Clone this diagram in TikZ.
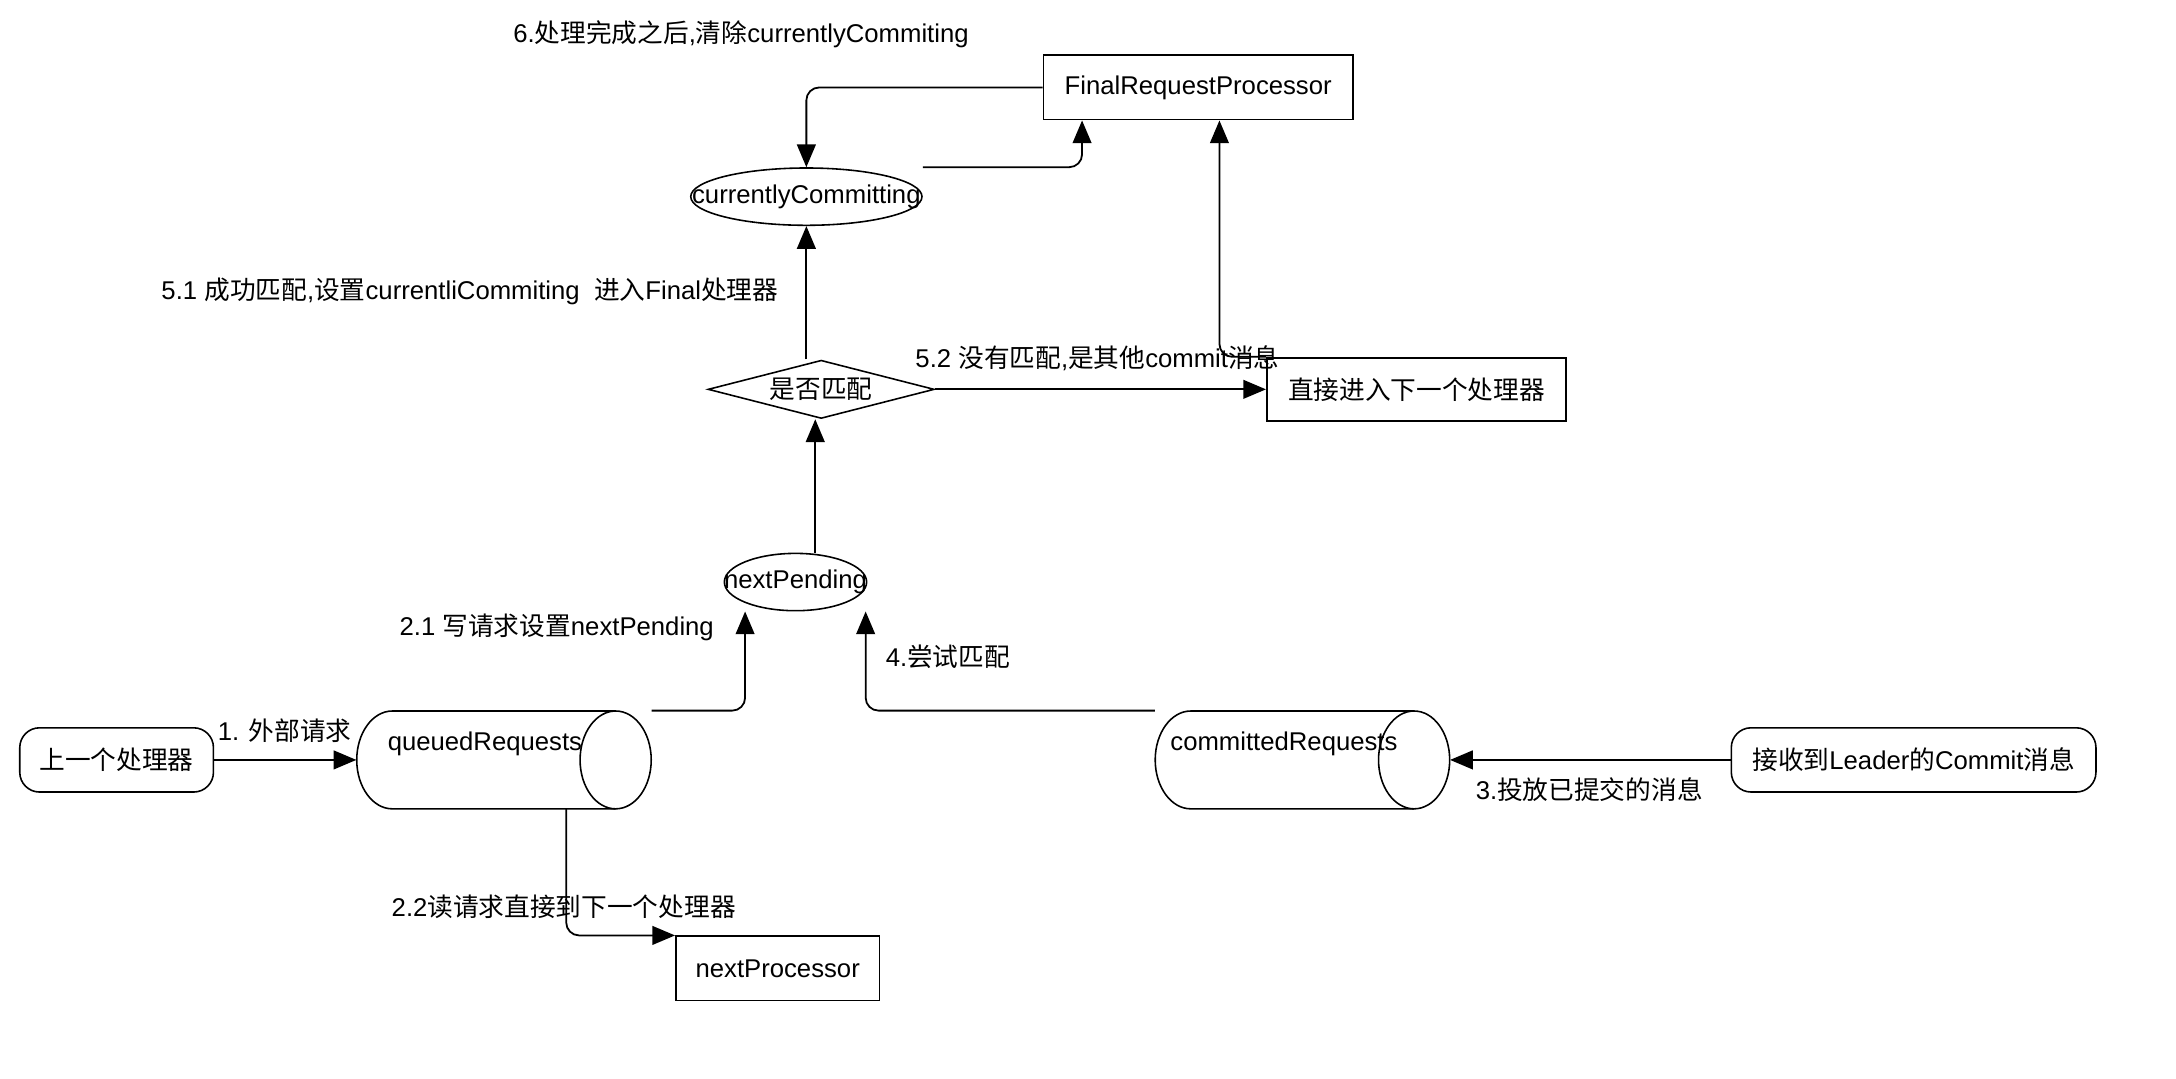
\documentclass[tikz,border=0pt]{standalone}
\usepackage{fontspec}
\setmainfont{Liberation Sans}
\newfontfamily\cjk{Noto Sans CJK SC}
\newcommand\zh[1]{{\cjk #1}}
\usetikzlibrary{arrows.meta,shapes.geometric}
\begin{document}
\begin{tikzpicture}[x=0.5pt,y=-0.5pt,
  every node/.style={font=\fontsize{13pt}{15pt}\selectfont},
  lbl/.style={anchor=west,inner sep=0pt},
  box/.style={draw,line width=0.9pt,minimum width=#1,minimum height=32.5pt,inner sep=0pt},
  rbox/.style={draw,line width=0.8pt,rounded corners=10pt,minimum width=#1,minimum height=32.5pt,inner sep=0pt},
  ell/.style={draw,line width=0.8pt,ellipse,inner sep=0pt},
  dia/.style={draw,line width=0.8pt,diamond,inner sep=0pt,aspect=3.9,minimum width=114.5pt,minimum height=29.5pt},
  cylbox/.style={inner sep=0pt,minimum width=149pt,minimum height=49.5pt},
  cyl/.style={line width=0.8pt},
  arr/.style={-{Triangle[length=11.5pt,width=9.5pt]},line width=0.9pt,rounded corners=6.5pt}]
\useasboundingbox (0,0) rectangle (2202,1091);
\begin{scope}[yshift=-1.5pt]
% nodes
\node[box=156.5pt] (fr) at (1212.5,85.5) {FinalRequestProcessor};
\node[ell,minimum width=117pt,minimum height=29pt] (cc) at (816,196) {};
\node[inner sep=0pt] (cct) at (cc) {currentlyCommitting};
\node[dia] (dm) at (831,391) {};
\node[inner sep=0pt] (dmt) at (dm) {\zh{是否匹配}};
\node[box=151.5pt,minimum height=32pt] (nx) at (1433.5,391) {\zh{直接进入下一个处理器}};
\node[ell,minimum width=72pt,minimum height=29pt] (np) at (805,586) {};
\node[inner sep=0pt] (npt) at (np) {nextPending};
\node[cylbox] (qr) at (510,766) {};
\node[cylbox] (cr) at (1318,766) {};
\node[rbox=98pt] (pb) at (118,766) {\zh{上一个处理器}};
\node[rbox=184.5pt] (ld) at (1936.5,766) {\zh{接收到}Leader\zh{的}Commit\zh{消息}};
\node[box=103pt] (npr) at (787,977) {nextProcessor};
% cylinders
\draw[cyl] (623,716.5) -- (397,716.5) arc[start angle=90,end angle=270,x radius=18pt,y radius=24.75pt] -- (623,815.5);
\draw[cyl] (623,766) ellipse[x radius=18pt,y radius=24.75pt];
\draw[cyl] (1431,716.5) -- (1205,716.5) arc[start angle=90,end angle=270,x radius=18pt,y radius=24.75pt] -- (1431,815.5);
\draw[cyl] (1431,766) ellipse[x radius=18pt,y radius=24.75pt];
% labels
\node[lbl] (t6) at (519,32) {6.\zh{处理完成之后},\zh{清除}currentlyCommiting};
\node[lbl] (t51) at (163,292) {5.1 \zh{成功匹配},\zh{设置}currentliCommiting\ \ \zh{进入}Final\zh{处理器}};
\node[lbl] (t52) at (926,360) {5.2 \zh{没有匹配},\zh{是其他}commit\zh{消息}};
\node[lbl] (t21) at (404,632) {2.1 \zh{写请求设置}nextPending};
\node[lbl] (t4) at (896,662) {4.\zh{尝试匹配}};
\node[lbl] (t1) at (220,736) {1. \zh{外部请求}};
\node[lbl] (tq) at (392,750) {queuedRequests};
\node[lbl] (tc) at (1184,750) {committedRequests};
\node[lbl] (t22) at (396,915) {2.2\zh{读请求直接到下一个处理器}};
\node[lbl] (t3) at (1493,796) {3.\zh{投放已提交的消息}};
% connectors
\draw[arr] (fr.west) -| (cc.north);
\draw[arr] (cc.north -| cc.east) -| ([xshift=-58.75pt]fr.south);
\draw[arr] ([xshift=-7.5pt]dm.north) -- (cc.south);
\draw[arr] (dm.east) -- (nx.west);
\draw[arr] (nx.north west) -| ([xshift=10.75pt]fr.south);
\draw[arr] ([xshift=10pt]np.north) -- ([xshift=-3pt]dm.south);
\draw[arr] (qr.north east) -| ([xshift=-25.5pt]np.south);
\draw[arr] (cr.north west) -| ([xshift=35.5pt]np.south);
\draw[arr] ([xshift=31.5pt]qr.south) |- (npr.north west);
\draw[arr] (pb.east) -- (qr.west);
\draw[arr] (ld.west) -- (cr.east);
\end{scope}
\end{tikzpicture}
\end{document}
